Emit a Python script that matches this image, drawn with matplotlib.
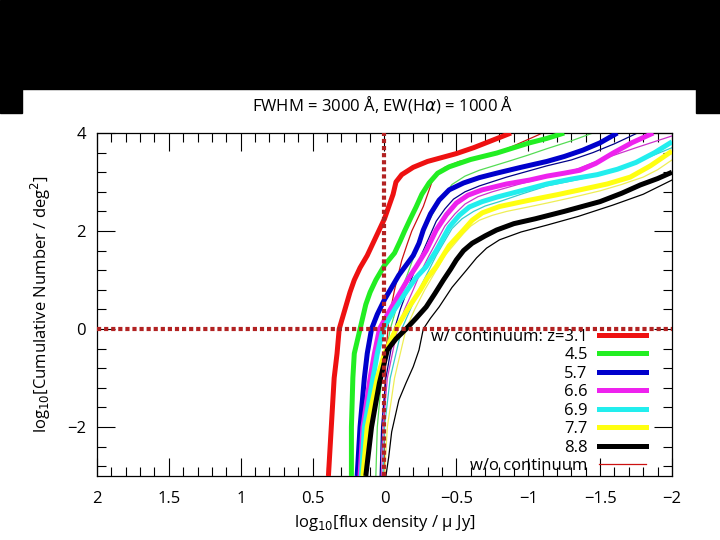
import matplotlib
matplotlib.use("Agg")
import matplotlib.pyplot as plt
from matplotlib.lines import Line2D
from matplotlib.patches import Rectangle
from matplotlib.ticker import MultipleLocator

plt.rcParams["font.family"] = ["Open Sans", "DejaVu Sans"]
plt.rcParams["mathtext.fontset"] = "dejavusans"

redshifts = ["3.1", "4.5", "5.7", "6.6", "6.9", "7.7", "8.8"]
thick_colors = ["#ee1111", "#22ee22", "#0000cc", "#ee22ee", "#22eeee", "#ffff11", "#000000"]
thin_colors = ["#cc1111", "#55dd55", "#000088", "#cc33cc", "#33cccc", "#eeee55", "#000000"]

# with continuum (thick lines): log10 flux [uJy], log10 N [deg^-2]
flux_w31 = [0.39, 0.38, 0.37, 0.36, 0.35, 0.33, 0.315, 0.29, 0.265, 0.24, 0.21, 0.17, 0.12, 0.08, 0.04,
            0.0, -0.03, -0.06, -0.08, -0.12, -0.20, -0.30, -0.40, -0.50, -0.62, -0.75, -0.88]
logn_w31 = [-3.0, -2.5, -2.0, -1.5, -1.0, -0.5, 0.0, 0.25, 0.5, 0.75, 1.0, 1.25, 1.5, 1.75, 2.0,
            2.25, 2.5, 2.75, 3.0, 3.15, 3.3, 3.42, 3.5, 3.58, 3.7, 3.85, 4.0]
flux_w45 = [0.23, 0.23, 0.22, 0.21, 0.19, 0.17, 0.15, 0.13, 0.10, 0.06, 0.0, -0.07, -0.11, -0.14, -0.18,
            -0.22, -0.26, -0.31, -0.37, -0.45, -0.60, -0.78, -0.90, -1.01, -1.13, -1.25]
logn_w45 = [-3.0, -2.0, -1.0, -0.5, -0.25, 0.0, 0.25, 0.5, 0.75, 1.0, 1.3, 1.55, 1.8, 2.0, 2.25,
            2.49, 2.75, 2.98, 3.18, 3.31, 3.46, 3.59, 3.7, 3.8, 3.89, 4.0]
flux_w57 = [0.19, 0.17, 0.14, 0.12, 0.09, 0.05, 0.0, -0.05, -0.10, -0.15, -0.20, -0.24, -0.27, -0.32,
            -0.38, -0.45, -0.55, -0.66, -0.78, -0.95, -1.13, -1.25, -1.38, -1.50, -1.62]
logn_w57 = [-3.0, -2.0, -1.0, -0.5, 0.0, 0.3, 0.6, 0.85, 1.1, 1.3, 1.5, 1.75, 2.02, 2.35,
            2.63, 2.84, 2.98, 3.09, 3.18, 3.3, 3.42, 3.52, 3.65, 3.8, 4.0]
flux_w66 = [0.17, 0.15, 0.10, 0.07, 0.035, -0.04, -0.12, -0.17, -0.22, -0.29, -0.36, -0.43, -0.50,
            -0.58, -0.68, -0.85, -1.01, -1.13, -1.25, -1.36, -1.47, -1.59, -1.72, -1.87]
logn_w66 = [-3.0, -2.0, -1.0, -0.5, 0.0, 0.4, 0.8, 1.05, 1.27, 1.6, 2.02, 2.33, 2.57,
            2.73, 2.84, 2.96, 3.04, 3.12, 3.18, 3.24, 3.38, 3.59, 3.8, 4.0]
flux_w69 = [0.16, 0.14, 0.08, 0.05, 0.01, -0.07, -0.16, -0.22, -0.29, -0.36, -0.45, -0.52, -0.59,
            -0.68, -0.78, -0.95, -1.13, -1.30, -1.48, -1.62, -1.75, -1.88, -2.0]
logn_w69 = [-3.0, -2.0, -1.0, -0.5, 0.0, 0.4, 0.8, 1.05, 1.27, 1.6, 2.08, 2.32, 2.49,
            2.6, 2.69, 2.82, 2.96, 3.06, 3.15, 3.26, 3.4, 3.6, 3.82]
flux_w77 = [0.15, 0.12, 0.05, 0.0, -0.08, -0.16, -0.25, -0.30, -0.36, -0.45, -0.55, -0.61, -0.68,
            -0.80, -1.01, -1.20, -1.36, -1.55, -1.71, -1.85, -2.0]
logn_w77 = [-3.0, -2.0, -1.0, -0.5, 0.0, 0.4, 0.8, 1.05, 1.27, 1.7, 2.02, 2.22, 2.37,
            2.5, 2.63, 2.74, 2.84, 2.96, 3.1, 3.33, 3.63]
flux_w88 = [0.13, 0.11, 0.09, 0.06, 0.035, -0.02, -0.08, -0.15, -0.22, -0.29, -0.35, -0.41, -0.46,
            -0.50, -0.55, -0.61, -0.70, -0.78, -0.90, -1.05, -1.25, -1.50, -1.65, -1.78, -1.90, -2.0]
logn_w88 = [-3.0, -2.5, -2.0, -1.5, -1.1, -0.43, -0.2, 0.0, 0.22, 0.45, 0.72, 1.0, 1.22,
            1.41, 1.6, 1.75, 1.9, 2.02, 2.15, 2.25, 2.4, 2.6, 2.77, 2.94, 3.07, 3.2]

# without continuum (thin lines)
flux_o31 = [0.0, 0.0, -0.01, -0.03, -0.07, -0.12, -0.16, -0.19, -0.23, -0.27, -0.30, -0.33, -0.37,
            -0.42, -0.52, -0.60, -0.68, -0.80, -0.90, -1.0, -1.10]
logn_o31 = [-3.0, -1.5, -0.5, 0.2, 0.8, 1.4, 1.75, 2.0, 2.25, 2.5, 2.75, 3.0, 3.17,
            3.3, 3.42, 3.47, 3.52, 3.62, 3.74, 3.87, 4.0]
flux_o45 = [0.06, 0.05, 0.02, -0.04, -0.08, -0.12, -0.17, -0.22, -0.29, -0.38, -0.47, -0.56, -0.66,
            -0.86, -1.00, -1.13, -1.30, -1.45]
logn_o45 = [-3.0, -2.0, -1.0, 0.0, 0.4, 0.8, 1.2, 1.6, 2.1, 2.6, 2.95, 3.12, 3.24,
            3.42, 3.55, 3.68, 3.84, 4.0]
flux_o57 = [0.03, 0.02, -0.01, -0.07, -0.11, -0.16, -0.21, -0.27, -0.36, -0.42, -0.48, -0.56, -0.66,
            -0.85, -1.13, -1.30, -1.45, -1.60, -1.76]
logn_o57 = [-3.0, -2.0, -1.0, 0.0, 0.4, 0.8, 1.2, 1.6, 2.2, 2.45, 2.65, 2.8, 2.92,
            3.1, 3.33, 3.45, 3.6, 3.78, 4.0]
flux_o66 = [0.02, 0.01, -0.02, -0.09, -0.14, -0.20, -0.25, -0.31, -0.42, -0.49, -0.56, -0.65, -0.75,
            -0.93, -1.13, -1.30, -1.50, -1.75, -2.0]
logn_o66 = [-3.0, -2.0, -1.0, 0.0, 0.4, 0.8, 1.15, 1.5, 2.1, 2.35, 2.55, 2.7, 2.8,
            2.95, 3.1, 3.22, 3.45, 3.7, 3.94]
flux_o69 = [0.01, 0.0, -0.04, -0.12, -0.18, -0.24, -0.30, -0.36, -0.47, -0.54, -0.62, -0.70, -0.80,
            -0.95, -1.13, -1.30, -1.50, -1.75, -2.0]
logn_o69 = [-3.0, -2.0, -1.0, 0.0, 0.4, 0.8, 1.15, 1.5, 2.05, 2.25, 2.4, 2.51, 2.6,
            2.75, 2.92, 3.02, 3.15, 3.4, 3.7]
flux_o77 = [0.0, -0.02, -0.07, -0.15, -0.21, -0.28, -0.35, -0.42, -0.55, -0.60, -0.66, -0.75, -0.85,
            -1.00, -1.13, -1.30, -1.50, -1.65, -1.80, -1.90, -2.0]
logn_o77 = [-3.0, -2.0, -1.0, 0.0, 0.4, 0.8, 1.15, 1.5, 1.95, 2.1, 2.22, 2.32, 2.4,
            2.49, 2.57, 2.68, 2.82, 2.95, 3.1, 3.25, 3.45]
flux_o88 = [-0.01, -0.03, -0.05, -0.10, -0.15, -0.20, -0.24, -0.27, -0.32, -0.38, -0.47, -0.57, -0.64,
            -0.71, -0.80, -0.95, -1.13, -1.35, -1.59, -1.80, -2.0]
logn_o88 = [-3.0, -2.6, -2.1, -1.45, -1.1, -0.77, -0.43, 0.0, 0.22, 0.45, 0.85, 1.2, 1.45,
            1.65, 1.82, 1.98, 2.12, 2.3, 2.53, 2.75, 3.04]

with_cont = [(flux_w31, logn_w31), (flux_w45, logn_w45), (flux_w57, logn_w57), (flux_w66, logn_w66),
             (flux_w69, logn_w69), (flux_w77, logn_w77), (flux_w88, logn_w88)]
no_cont = [(flux_o31, logn_o31), (flux_o45, logn_o45), (flux_o57, logn_o57), (flux_o66, logn_o66),
           (flux_o69, logn_o69), (flux_o77, logn_o77), (flux_o88, logn_o88)]

fig = plt.figure(figsize=(7.2, 5.4), dpi=100)
# slide background (black band on top)
fig.patches.append(Rectangle((0, 0.8352), 1, 0.1648, transform=fig.transFigure, color="black", zorder=0))
fig.patches.append(Rectangle((0, 0.7907), 0.0306, 0.05, transform=fig.transFigure, color="black", zorder=0))
fig.patches.append(Rectangle((0.9667, 0.7907), 0.0333, 0.05, transform=fig.transFigure, color="black", zorder=0))

ax = fig.add_axes([0.1347, 0.1185, 0.7986, 0.6352])

for (fx, ny), c in zip(no_cont, thin_colors):
    ax.plot(fx, ny, color=c, lw=0.9, zorder=2, solid_joinstyle="round")
for (fx, ny), c in zip(with_cont, thick_colors):
    ax.plot(fx, ny, color=c, lw=3.6, zorder=3, solid_capstyle="butt", solid_joinstyle="round")

ax.axvline(0, color="#b22222", lw=3.0, ls=(0, (1, 0.7)), zorder=6)
ax.axhline(0, color="#b22222", lw=3.0, ls=(0, (1, 0.7)), zorder=6)

ax.set_xlim(2, -2)
ax.set_ylim(-3, 4)
ax.xaxis.set_minor_locator(MultipleLocator(0.1))
ax.yaxis.set_minor_locator(MultipleLocator(0.4))
ax.set_xticks([2, 1.5, 1, 0.5, 0, -0.5, -1, -1.5, -2])
ax.set_xticklabels(["2", "1.5", "1", "0.5", "0", "\u22120.5", "\u22121", "\u22121.5", "\u22122"])
ax.set_yticks([4, 2, 0, -2])
ax.set_yticklabels(["4", "2", "0", "\u22122"])
ax.tick_params(which="both", direction="in", top=True, right=True, width=0.8, labelsize=12, colors="black")
ax.tick_params(which="major", length=13, pad=8)
ax.tick_params(axis="x", which="major", pad=11)
ax.tick_params(which="minor", length=6.5)
for s in ax.spines.values():
    s.set_linewidth(0.9)

handles = [Line2D([], [], color=c, lw=3.6) for c in thick_colors]
handles.append(Line2D([], [], color=thin_colors[0], lw=0.9))
labels = ["w/ continuum: z=" + redshifts[0]] + redshifts[1:] + ["w/o continuum"]
leg = ax.legend(handles, labels, loc="lower right", bbox_to_anchor=(0.955, 0.005), markerfirst=False,
                frameon=False, fontsize=12, handlelength=2.8, handletextpad=0.7, labelspacing=0.15,
                borderpad=0, borderaxespad=0)
leg.set_zorder(5)

fig.text(0.532, 0.807, "FWHM = 3000 \u00c5, EW(H$\\alpha$) = 1000 \u00c5", ha="center", va="center", fontsize=12)
ax.set_xlabel("log$_{10}$[flux density / \u03bc Jy]", fontsize=12, labelpad=4)
ax.set_ylabel("log$_{10}$[Cumulative Number / deg$^2$]", fontsize=12, labelpad=10)

fig.savefig("out.png", dpi=100, facecolor="white")
